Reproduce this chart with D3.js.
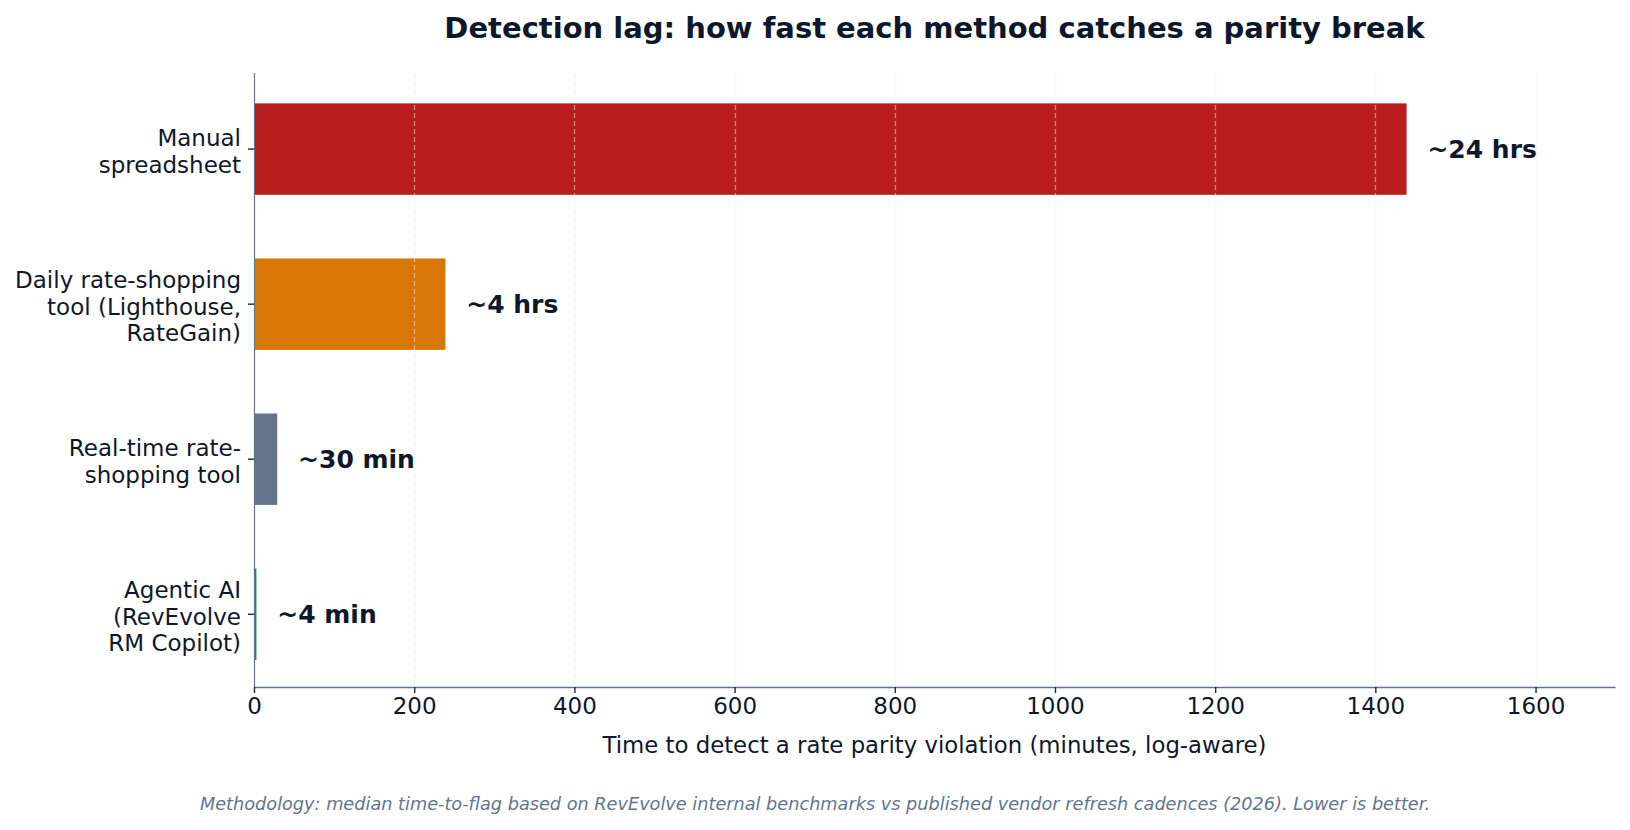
<!DOCTYPE html>
<html>
<head>
<meta charset="utf-8">
<script src="https://cdn.jsdelivr.net/npm/d3@7"></script>
<style>
  body { margin: 0; background: #fff; }
  svg { display: block; font-family: "DejaVu Sans", sans-serif; }
</style>
</head>
<body>
<div id="chart"></div>
<script>
// data
var methods = [
  ["Manual", "spreadsheet"],
  ["Daily rate-shopping", "tool (Lighthouse,", "RateGain)"],
  ["Real-time rate-", "shopping tool"],
  ["Agentic AI", "(RevEvolve", "RM Copilot)"]
];
var minutes = [1440, 240, 30, 4];
var valueLabels = ["~24 hrs", "~4 hrs", "~30 min", "~4 min"];
var barColors = ["#b91c1c", "#d97706", "#64748b", "#059669"];
var xTicks = [0, 200, 400, 600, 800, 1000, 1200, 1400, 1600];

var W = 1630, H = 830;
var margin = { top: 73, right: 15, bottom: 143, left: 254 },
    width = W - margin.left - margin.right,
    height = H - margin.top - margin.bottom;

var ink = "#0f172a", slate = "#64748b";

var svg = d3.select("#chart").append("svg")
    .attr("width", W)
    .attr("height", H);

var g = svg.append("g")
    .attr("transform", "translate(" + margin.left + "," + margin.top + ")");

var x = d3.scaleLinear()
    .domain([0, d3.max(minutes) * 1.18])
    .range([0, width]);

var y = d3.scaleBand()
    .domain(d3.range(methods.length))
    .range([0, height])
    .paddingInner(0.4)
    .paddingOuter(0.18)
    .align(0.53);

var rows = methods.map(function (m, i) {
    return { lines: m, value: minutes[i], label: valueLabels[i], color: barColors[i], i: i };
});

// bars (white edge like the original)
g.selectAll("rect.bar")
    .data(rows)
    .enter().append("rect")
    .attr("class", "bar")
    .attr("x", x(0))
    .attr("y", function (d) { return y(d.i); })
    .attr("width", function (d) { return x(d.value) - x(0); })
    .attr("height", y.bandwidth())
    .attr("fill", function (d) { return d.color; })
    .attr("stroke", "#fff")
    .attr("stroke-width", 1.6);

// dashed grid, drawn over the bars like the original
g.selectAll("line.grid")
    .data(xTicks.slice(1))
    .enter().append("line")
    .attr("class", "grid")
    .attr("x1", function (d) { return Math.round(x(d)) + 0.5; })
    .attr("x2", function (d) { return Math.round(x(d)) + 0.5; })
    .attr("y1", 0)
    .attr("y2", height)
    .attr("stroke", "#e2e8f0")
    .attr("stroke-opacity", 0.55)
    .attr("stroke-width", 1.2)
    .attr("stroke-dasharray", "5,3");

// value labels
g.selectAll("text.val")
    .data(rows)
    .enter().append("text")
    .attr("class", "val")
    .attr("x", function (d) { return x(d.value + 25); })
    .attr("y", function (d) { return y(d.i) + y.bandwidth() / 2; })
    .attr("dy", "0.36em")
    .attr("fill", ink)
    .style("font-size", "25px")
    .style("font-weight", "bold")
    .text(function (d) { return d.label; });

// x axis
var xAxis = g.append("g")
    .attr("transform", "translate(0," + height + ")")
    .call(d3.axisBottom(x).tickValues(xTicks).tickFormat(d3.format("d"))
        .tickSize(6).tickSizeOuter(0).tickPadding(5));
xAxis.select(".domain").attr("stroke", slate).attr("stroke-width", 1.5);
xAxis.selectAll(".tick line").attr("stroke", "#1e293b").attr("stroke-width", 1.4);
xAxis.selectAll(".tick text")
    .attr("fill", ink)
    .style("font-size", "23px")
    .style("font-family", "DejaVu Sans");

// y axis (labels are multi-line, so do them by hand)
g.append("line")
    .attr("x1", 0.5).attr("x2", 0.5)
    .attr("y1", 0).attr("y2", height)
    .attr("stroke", slate)
    .attr("stroke-width", 1.2);

var yt = g.selectAll("g.ytick")
    .data(rows)
    .enter().append("g")
    .attr("class", "ytick")
    .attr("transform", function (d) { return "translate(0," + (y(d.i) + y.bandwidth() / 2) + ")"; });

yt.append("line")
    .attr("x1", -6).attr("x2", 0)
    .attr("stroke", "#1e293b")
    .attr("stroke-width", 1.4);

var lineH = 26.5;
yt.append("text")
    .attr("x", -13)
    .attr("text-anchor", "end")
    .attr("fill", ink)
    .style("font-size", "23px")
    .each(function (d) {
        var t = d3.select(this);
        var n = d.lines.length;
        d.lines.forEach(function (s, k) {
            t.append("tspan")
                .attr("x", -13)
                .attr("y", (k - (n - 1) / 2) * lineH)
                .attr("dy", "0.45em")
                .text(s);
        });
    });

// title
svg.append("text")
    .attr("x", margin.left + width / 2)
    .attr("y", 38)
    .attr("text-anchor", "middle")
    .attr("fill", ink)
    .style("font-size", "29px")
    .style("font-weight", "bold")
    .text("Detection lag: how fast each method catches a parity break");

// x axis title
svg.append("text")
    .attr("x", margin.left + width / 2)
    .attr("y", 753)
    .attr("text-anchor", "middle")
    .attr("fill", ink)
    .style("font-size", "22.8px")
    .text("Time to detect a rate parity violation (minutes, log-aware)");

// footnote
svg.append("text")
    .attr("x", W / 2)
    .attr("y", 810)
    .attr("text-anchor", "middle")
    .attr("fill", slate)
    .style("font-size", "17.7px")
    .style("font-style", "italic")
    .text("Methodology: median time-to-flag based on RevEvolve internal benchmarks vs published vendor refresh cadences (2026). Lower is better.");
</script>
</body>
</html>
